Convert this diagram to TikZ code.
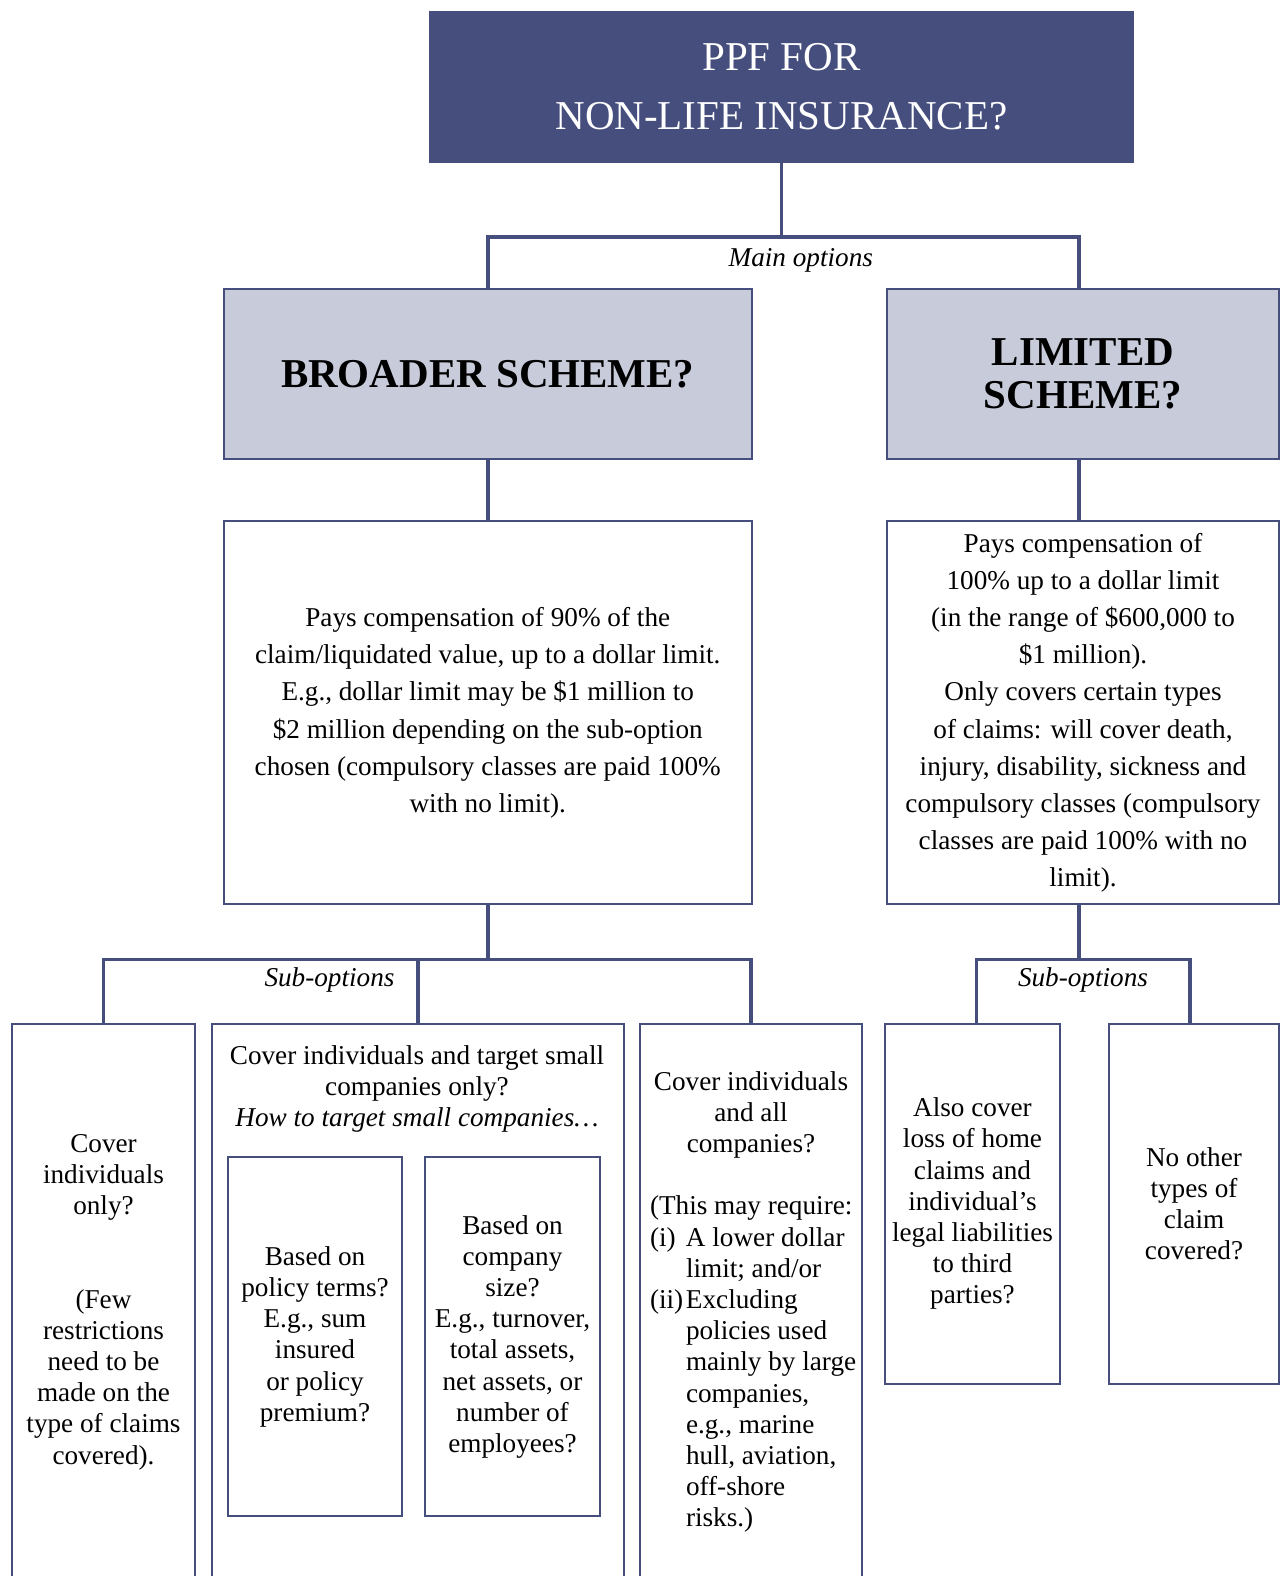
\documentclass[tikz,border=0pt]{standalone}
\usepackage{fontspec}
\setmainfont{Liberation Serif}
\definecolor{ppfnavy}{RGB}{70,78,125}
\definecolor{ppflav}{RGB}{200,203,218}
\newcommand\txtfont{\fontsize{13.6}{15.6}\selectfont}
\newcommand\descfont{\fontsize{13.6}{18.6}\selectfont}
\newcommand\headfont{\fontsize{20.5}{29.6}\selectfont}
\newcommand\schemefont{\fontsize{20.5}{21.6}\selectfont\bfseries}
\newcommand\hangline[1]{\mbox{\hspace*{18pt}#1}}
\tikzset{
  box/.style={draw=ppfnavy, line width=1pt, fill=white, inner sep=2pt, align=center, font=\txtfont},
  scheme/.style={box, fill=ppflav, font=\schemefont},
  link/.style={draw=ppfnavy, line width=1.8pt},
  optlabel/.style={inner sep=0pt, font=\txtfont\itshape}
}
\begin{document}
\begin{tikzpicture}[x=0.5pt,y=-0.5pt]
      \clip (0,0) rectangle (1280,1576);
      \node[fill=ppfnavy, text=white, align=center, font=\headfont,
        minimum width=352.5pt, minimum height=76pt] (top) at (781.5,87)
        {PPF FOR\\NON-LIFE INSURANCE?};
      \node[scheme, minimum width=263.75pt, minimum height=84.8pt] (broad) at (487.75,374.2)
        {BROADER SCHEME?};
      \node[scheme, minimum width=196pt, minimum height=84.8pt] (lim) at (1083,374.2)
        {LIMITED\\SCHEME?};
      \node[box, font=\descfont, minimum width=263.75pt, minimum height=191.4pt] (bdesc) at (487.75,712.8)
        {Pays compensation of 90\% of the\\claim/liquidated value, up to a dollar limit.\\
         E.g., dollar limit may be \$1 million to\\\$2 million depending on the sub-option\\
         chosen (compulsory classes are paid 100\%\\with no limit).};
      \node[box, font=\descfont, minimum width=196pt, minimum height=191.4pt] (ldesc) at (1083,712.8)
        {Pays compensation of\\100\% up to a dollar limit\\(in the range of \$600,000 to\\\$1 million).\\
         Only covers certain types\\of claims: will cover death,\\injury, disability, sickness and\\
         compulsory classes (compulsory\\classes are paid 100\% with no\\limit).};
      \node[box, minimum width=91.5pt, minimum height=278pt] (bsub1) at (103.5,1302)
        {Cover\\individuals\\only?\\[31.2pt](Few\\restrictions\\need to be\\made on the\\type of claims\\covered).};
      \node[box, minimum width=206pt, minimum height=278pt] (bsub2) at (418,1302) {};
      \node[box, text width=101pt, inner xsep=5pt, align=flush left, minimum height=278pt] (bsub3) at (751,1302)
        {{\centering Cover individuals\\and all\\companies?\par}
         \vspace{15.6pt}
         \mbox{(This may require:}\\
         \mbox{\makebox[18pt][l]{(i)}A lower dollar}\\
         \hangline{limit; and/or}\\
         \mbox{\makebox[18pt][l]{(ii)}Excluding}\\
         \hangline{policies used}\\
         \hangline{mainly by large}\\
         \hangline{companies,}\\
         \hangline{e.g., marine}\\
         \hangline{hull, aviation,}\\
         \hangline{off-shore}\\
         \hangline{risks.)}};
      \node[font=\txtfont, align=center, inner sep=0pt] (bhead) at (417,1089)
        {Cover individuals and target small\\companies only?\\\textit{How to target small companies\ldots}};
      \node[box, minimum width=87pt, minimum height=179.3pt] (size1) at (315,1336.7)
        {Based on\\policy terms?\\E.g., sum\\insured\\or policy\\premium?};
      \node[box, minimum width=87.5pt, minimum height=179.3pt] (size2) at (512.5,1336.7)
        {Based on\\company\\size?\\E.g., turnover,\\total assets,\\net assets, or\\number of\\employees?};
      \node[box, minimum width=87.5pt, minimum height=179.75pt] (lsub1) at (972.5,1203.75)
        {Also cover\\loss of home\\claims and\\individual’s\\legal liabilities\\to third\\parties?};
      \node[box, minimum width=85pt, minimum height=179.75pt] (lsub2) at (1194,1203.75)
        {No other\\types of\\claim\\covered?};
      \coordinate (mainfork) at (781.5,237);
      \coordinate (bfork) at (487.75,959.5);
      \coordinate (lfork) at (1079,959.5);
      \begin{scope}[link]
        \draw (top.south) -- (mainfork);
        \draw (broad.north) |- (mainfork) -| ([xshift=-2pt]lim.north);
        \draw (broad.south) -- (bdesc.north);
        \draw ([xshift=-2pt]lim.south) -- ([xshift=-2pt]ldesc.north);
        \draw (bdesc.south) -- (bfork);
        \draw (bsub1.north) |- (bfork) -| (bsub3.north);
        \draw (bsub2.north) -- (bsub2.north |- bfork);
        \draw ([xshift=-2pt]ldesc.south) -- (lfork);
        \draw ([xshift=2pt]lsub1.north) |- (lfork) -| ([xshift=-2pt]lsub2.north);
      \end{scope}
      \node[optlabel] (mainlbl) at (800.8,260) {Main options};
      \node[optlabel] (bsublbl) at (329.5,979.6) {Sub-options};
      \node[optlabel] (lsublbl) at (1083,979.6) {Sub-options};
    \end{tikzpicture}
\end{document}
